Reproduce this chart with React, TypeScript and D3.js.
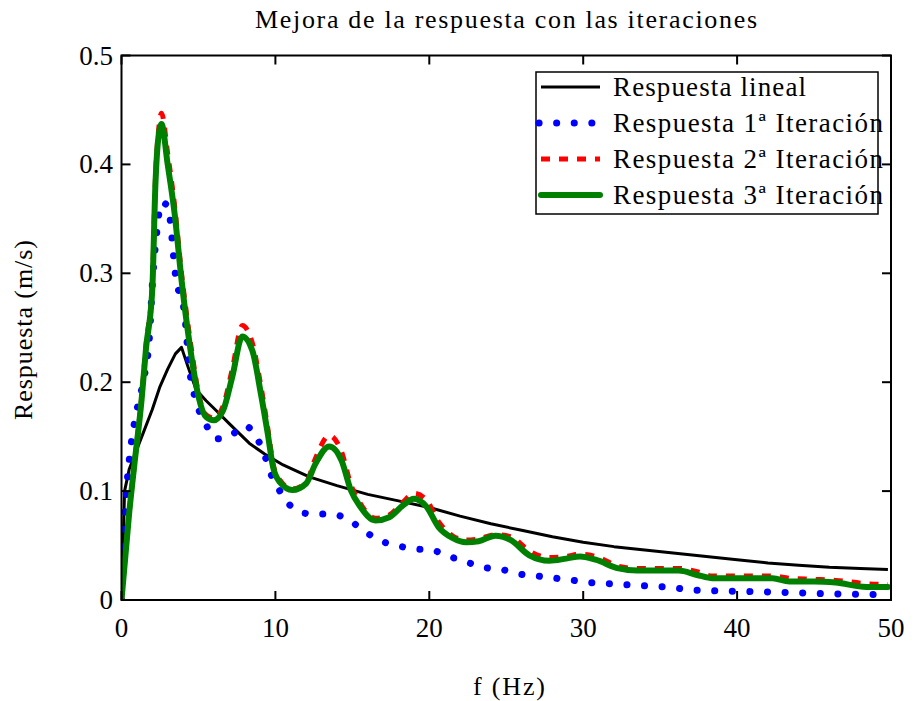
import React from "react";
import * as d3 from "d3";

// frecuencias (Hz) y respuestas (m/s)
const fLineal = [0, 0.2, 0.5, 0.85, 1.4, 2, 2.5, 3, 3.5, 3.9, 4.3, 4.85, 5.5, 6.15, 7, 8.3, 9.3, 10.5, 12.2, 14, 16, 18, 20, 22, 24, 26, 28, 30, 32, 34, 36, 38, 40, 42, 44, 46, 48, 49.8];
const respLineal = [0, 0.1, 0.12, 0.133, 0.153, 0.175, 0.196, 0.212, 0.226, 0.232, 0.215, 0.193, 0.183, 0.174, 0.162, 0.144, 0.134, 0.124, 0.113, 0.105, 0.097, 0.091, 0.085, 0.077, 0.07, 0.064, 0.058, 0.053, 0.049, 0.046, 0.043, 0.04, 0.037, 0.034, 0.032, 0.03, 0.029, 0.028];

const fIter1 = [0, 0.1, 0.3, 0.6, 0.95, 1.4, 1.8, 2.05, 2.25, 2.6, 3.0, 3.55, 4.1, 4.4, 4.75, 5.4, 6.15, 7.1, 8.0, 8.75, 9.3, 9.7, 10.25, 11.2, 12.3, 13.5, 14.6, 15.8, 16.9, 17.9, 19, 20.1, 21.3, 22.4, 23.5, 24.7, 25.8, 27, 28.2, 29.4, 30.5, 31.7, 34, 35.2, 37.4, 40, 43, 46.6, 49.3];
const respIter1 = [0, 0.04, 0.095, 0.14, 0.171, 0.2, 0.239, 0.3, 0.332, 0.365, 0.362, 0.294, 0.263, 0.214, 0.187, 0.164, 0.148, 0.151, 0.16, 0.15, 0.133, 0.116, 0.101, 0.084, 0.079, 0.079, 0.075, 0.063, 0.054, 0.05, 0.047, 0.046, 0.04, 0.035, 0.03, 0.028, 0.024, 0.022, 0.02, 0.018, 0.016, 0.015, 0.013, 0.012, 0.009, 0.008, 0.007, 0.0055, 0.005];

const fIter = [0, 0.5, 0.85, 1.3, 1.6, 2.0, 2.2, 2.4, 2.6, 3.0, 3.45, 3.9, 4.3, 4.65, 5.0, 5.5, 6.0, 6.6, 7.2, 7.85, 8.5, 9.05, 9.5, 9.85, 10.3, 11.1, 12.0, 12.6, 13.5, 14.3, 14.9, 15.5, 16.5, 17.4, 18.3, 19.0, 19.8, 20.6, 21.5, 22.4, 23.2, 24.3, 25.3, 26.5, 27.8, 28.9, 29.8, 30.8, 32.3, 33.5, 35, 36.2, 37.4, 38.4, 40, 42.3, 43.4, 45, 46.4, 48.4, 49.8];
const respIter2 = [0, 0.08, 0.126, 0.185, 0.235, 0.29, 0.385, 0.43, 0.447, 0.41, 0.362, 0.3, 0.255, 0.22, 0.19, 0.17, 0.167, 0.178, 0.212, 0.252, 0.236, 0.197, 0.158, 0.125, 0.11, 0.102, 0.108, 0.13, 0.151, 0.136, 0.106, 0.089, 0.075, 0.078, 0.09, 0.098, 0.092, 0.072, 0.059, 0.055, 0.056, 0.06, 0.058, 0.045, 0.039, 0.04, 0.042, 0.04, 0.031, 0.029, 0.029, 0.029, 0.026, 0.022, 0.022, 0.022, 0.02, 0.019, 0.018, 0.015, 0.014];
const respIter3 = [0, 0.08, 0.126, 0.183, 0.232, 0.285, 0.38, 0.425, 0.437, 0.4, 0.355, 0.294, 0.248, 0.214, 0.187, 0.168, 0.165, 0.174, 0.205, 0.242, 0.229, 0.19, 0.153, 0.122, 0.108, 0.101, 0.107, 0.125, 0.141, 0.128, 0.101, 0.086, 0.073, 0.076, 0.087, 0.093, 0.086, 0.067, 0.057, 0.053, 0.054, 0.059, 0.055, 0.041, 0.036, 0.038, 0.04, 0.037, 0.029, 0.027, 0.027, 0.027, 0.023, 0.02, 0.02, 0.02, 0.017, 0.017, 0.016, 0.012, 0.012];

const xTicks = [0, 10, 20, 30, 40, 50];
const yTicks = [0, 0.1, 0.2, 0.3, 0.4, 0.5];
const yTickLabels = ["0", "0.1", "0.2", "0.3", "0.4", "0.5"];

const seriesNames = ["Respuesta lineal", "Respuesta 1ª Iteración", "Respuesta 2ª Iteración", "Respuesta 3ª Iteración"];

const FONT = "'Liberation Serif', 'Times New Roman', serif";

export default function App() {
  const left = 121.5, right = 891, top = 55.5, bottom = 600;
  const x = d3.scaleLinear().domain([0, 50]).range([left, right]);
  const y = d3.scaleLinear().domain([0, 0.5]).range([bottom, top]);
  const tick = 9;

  const mk = (fs: number[], vs: number[], curve: any) =>
    d3.line<number>().x((_, i) => x(fs[i])).y((v) => y(v)).curve(curve)(vs) || "";

  const series = [
    { d: mk(fLineal, respLineal, d3.curveLinear), stroke: "#000", w: 3, dash: undefined, cap: "butt" },
    { d: mk(fIter1, respIter1, d3.curveMonotoneX), stroke: "#0000ff", w: 7, dash: "0.1 17.5", cap: "round" },
    { d: mk(fIter, respIter2, d3.curveMonotoneX), stroke: "#ff0000", w: 5, dash: "9 9", cap: "butt" },
    { d: mk(fIter, respIter3, d3.curveMonotoneX), stroke: "#008000", w: 6, dash: undefined, cap: "round" },
  ];

  const legendX = 536, legendY = 72, legendW = 342, legendH = 142;
  const rowY = [87, 123, 159, 195];
  const labelLen = [193, 270, 270, 270];

  return (
    <svg width={921} height={701} style={{ position: "absolute", left: 0, top: 0, background: "#fff" }} fontFamily={FONT}>
      <rect x={0} y={0} width={921} height={701} fill="#fff" />
      <text x={255} y={28} fontSize={26} textLength={502} lengthAdjust="spacing">Mejora de la respuesta con las iteraciones</text>

      <defs>
        <clipPath id="plot">
          <rect x={left} y={top - 10} width={right - left} height={bottom - top + 10} />
        </clipPath>
      </defs>

      <g clipPath="url(#plot)">
        {series.map((s, i) => (
          <path key={i} d={s.d} fill="none" stroke={s.stroke} strokeWidth={s.w}
            strokeDasharray={s.dash} strokeLinecap={s.cap as any} strokeLinejoin="round" />
        ))}
      </g>

      <rect x={left} y={top} width={right - left} height={bottom - top} fill="none" stroke="#000" strokeWidth={2} />

      {xTicks.map((t) => (
        <g key={"x" + t}>
          <line x1={x(t)} x2={x(t)} y1={bottom} y2={bottom - tick} stroke="#000" strokeWidth={2} />
          <line x1={x(t)} x2={x(t)} y1={top} y2={top + tick} stroke="#000" strokeWidth={2} />
          <text x={x(t)} y={637} fontSize={27} textAnchor="middle">{t}</text>
        </g>
      ))}
      {yTicks.map((t, i) => (
        <g key={"y" + t}>
          <line x1={left} x2={left + tick} y1={y(t)} y2={y(t)} stroke="#000" strokeWidth={2} />
          <line x1={right} x2={right - tick} y1={y(t)} y2={y(t)} stroke="#000" strokeWidth={2} />
          <text x={113} y={y(t) + 9} fontSize={27} textAnchor="end">{yTickLabels[i]}</text>
        </g>
      ))}

      <text x={473} y={695} fontSize={26} textLength={72} lengthAdjust="spacing">f (Hz)</text>
      <text transform={`translate(32, 420) rotate(-90)`} fontSize={26} textLength={180} lengthAdjust="spacing">Respuesta (m/s)</text>

      <rect x={legendX} y={legendY} width={legendW} height={legendH} fill="#fff" stroke="#000" strokeWidth={1.5} />
      {series.map((s, i) => (
        <g key={"l" + i}>
          <line x1={i === 1 ? 539 : 541} x2={600} y1={rowY[i]} y2={rowY[i]} stroke={s.stroke} strokeWidth={s.w}
            strokeDasharray={s.dash} strokeLinecap={s.cap as any} />
          <text x={613} y={rowY[i] + 9} fontSize={27} textLength={labelLen[i]} lengthAdjust="spacing">{seriesNames[i]}</text>
        </g>
      ))}
    </svg>
  );
}
